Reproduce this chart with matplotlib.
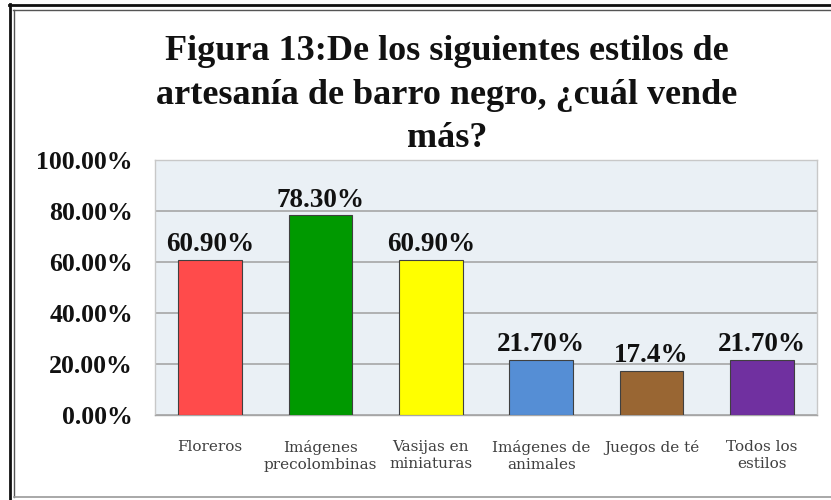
import matplotlib
matplotlib.use("Agg")
import matplotlib.pyplot as plt
from matplotlib.lines import Line2D

W, H, DPI = 831, 500, 100

categories = [
    "Floreros",
    "Imágenes\nprecolombinas",
    "Vasijas en\nminiaturas",
    "Imágenes de\nanimales",
    "Juegos de té",
    "Todos los\nestilos",
]
values = [60.9, 78.3, 60.9, 21.7, 17.4, 21.7]
value_labels = ["60.90%", "78.30%", "60.90%", "21.70%", "17.4%", "21.70%"]
bar_colors = ["#FF4B4B", "#009900", "#FFFF00", "#558ED5", "#996633", "#7030A0"]
y_ticks = [0, 20, 40, 60, 80, 100]
y_tick_labels = ["0.00%", "20.00%", "40.00%", "60.00%", "80.00%", "100.00%"]
title = "Figura 13:De los siguientes estilos de\nartesanía de barro negro, ¿cuál vende\nmás?"

SERIF = ["Liberation Serif", "DejaVu Serif"]

fig = plt.figure(figsize=(W / DPI, H / DPI), dpi=DPI, facecolor="white")

# plot area in pixel terms of the reference
left, right, top, bottom = 155, 817, 160, 415
ax = fig.add_axes([left / W, 1 - bottom / H, (right - left) / W, (bottom - top) / H])
ax.set_facecolor("#EAF0F5")

x = range(len(categories))
bars = ax.bar(x, values, width=0.58, color=bar_colors, edgecolor="#404040",
              linewidth=0.8, zorder=3)
ax.bar_label(bars, labels=value_labels, padding=2, fontsize=19.5,
             fontweight="bold", family=SERIF, color="#111111")

ax.set_xlim(-0.5, len(categories) - 0.5)
ax.set_ylim(0, 100)
ax.set_yticks(y_ticks)
ax.set_yticklabels(y_tick_labels, fontsize=18.5, fontweight="bold", family=SERIF,
                   color="#111111")
ax.set_xticks(list(x))
ax.set_xticklabels(categories, fontsize=11, family=["DejaVu Serif"],
                   color="#404040", linespacing=1.25)
ax.tick_params(axis="y", length=0, pad=16)
ax.tick_params(axis="x", length=0, pad=18)

ax.yaxis.grid(True, color="#A6A6A6", linewidth=1.2, zorder=0)
ax.set_axisbelow(True)
for name, sp in ax.spines.items():
    sp.set_color("#C8C8C8")
    sp.set_linewidth(1.0)
ax.spines["bottom"].set_color("#A6A6A6")

fig.text(447 / W, 1 - 35 / H, title, ha="center", va="top", fontsize=26,
         fontweight="bold", family=SERIF, color="#111111",
         multialignment="center", linespacing=1.42)

# outer double frame of the chart
def px_line(x0, y0, x1, y1, color, lw):
    fig.add_artist(Line2D([x0 / W, x1 / W], [1 - y0 / H, 1 - y1 / H],
                          transform=fig.transFigure, color=color, linewidth=lw))

px_line(9, 5, W, 5, "#111111", 2.0)
px_line(13, 10, W, 10, "#555555", 1.0)
px_line(10, 4, 10, H, "#111111", 2.0)
px_line(14, 10, 14, 497, "#555555", 1.0)
px_line(14, 497, W, 497, "#999999", 1.2)

fig.savefig("out.png", dpi=DPI, facecolor="white")
